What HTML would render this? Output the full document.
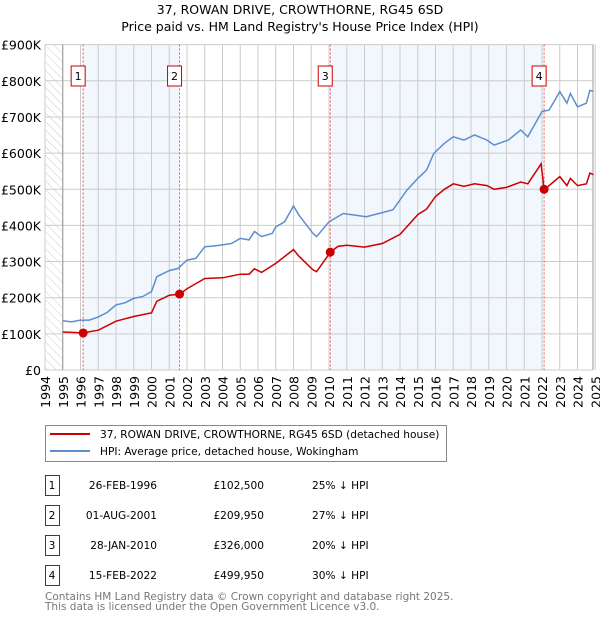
<!DOCTYPE html>
<html><head><meta charset="utf-8"><style>
body{margin:0;background:#fff}
svg{display:block;font-family:"DejaVu Sans","Liberation Sans",sans-serif}
</style></head><body>
<svg id="c" width="600" height="620" viewBox="0 0 600 620">
<defs><pattern id="hatch" width="6" height="6" patternUnits="userSpaceOnUse" patternTransform="rotate(-45)"><line x1="0" y1="0" x2="0" y2="6" stroke="#ccc" stroke-width="1"/></pattern></defs>
<text x="300" y="14" text-anchor="middle" font-size="12.5">37, ROWAN DRIVE, CROWTHORNE, RG45 6SD</text>
<text x="300" y="31" text-anchor="middle" font-size="12.5">Price paid vs. HM Land Registry's House Price Index (HPI)</text>
<g id="plot"></g>
<g>
<rect x="45.5" y="425.5" width="401" height="36" fill="#fff" stroke="#888"/>
<line x1="50" y1="434" x2="90" y2="434" stroke="#cc0000" stroke-width="2"/>
<text x="100" y="438" font-size="10.6">37, ROWAN DRIVE, CROWTHORNE, RG45 6SD (detached house)</text>
<line x1="50" y1="451" x2="90" y2="451" stroke="#5b8fd0" stroke-width="2"/>
<text x="100" y="455" font-size="10.6">HPI: Average price, detached house, Wokingham</text>
</g>
<g id="table" font-size="10.6"></g>
<text x="45" y="600" font-size="10.5" fill="#777">Contains HM Land Registry data © Crown copyright and database right 2025.</text>
<text x="45" y="610" font-size="10.5" fill="#777">This data is licensed under the Open Government Licence v3.0.</text>
</svg>
<script>
const hpiYears=[1995,1995.5,1996,1996.5,1997,1997.5,1998,1998.5,1999,1999.5,2000,2000.3,2001,2001.5,2002,2002.5,2003,2003.5,2004,2004.5,2005,2005.5,2005.8,2006.2,2006.8,2007,2007.5,2008,2008.3,2009.1,2009.3,2010,2010.8,2012.1,2013.6,2014.4,2015,2015.5,2015.9,2016.5,2017,2017.6,2018.2,2018.9,2019.3,2020.1,2020.8,2021.2,2022,2022.4,2023,2023.4,2023.6,2024,2024.5,2024.7,2024.9];
const hpiValues=[136,133,138,138,147,159,180,186,198,203,217,258,275,281,304,309,341,343,346,350,364,360,383,369,378,396,410,454,429,378,369,410,433,424,443,498,530,553,599,627,645,636,650,636,622,636,664,645,715,719,770,738,765,728,738,774,770];
const priceYears=[1995,1996.15,1997,1998,1999,2000,2000.3,2001,2001.6,2002,2003,2004,2005,2005.5,2005.8,2006.2,2007,2008,2008.3,2009.1,2009.3,2010.08,2010.5,2011,2012,2013,2014,2015,2015.5,2016,2016.5,2017,2017.6,2018.2,2018.9,2019.3,2020,2020.8,2021.2,2021.95,2022.12,2022.4,2023,2023.4,2023.6,2024,2024.5,2024.7,2024.9];
const priceValues=[105,102.5,110,135,148,158,190,207,210,225,253,255,265,265,280,270,295,333,315,277,272,326,342,345,340,350,375,430,445,480,500,515,508,515,510,500,505,520,515,570,500,510,535,510,530,510,515,545,540];
const saleYears=[1996.15,2001.58,2010.07,2022.12];
const saleValues=[102.5,209.95,326,499.95];
const saleLabels=["1","2","3","4"];
const saleDates=["26-FEB-1996","01-AUG-2001","28-JAN-2010","15-FEB-2022"];
const salePrices=["£102,500","£209,950","£326,000","£499,950"];
const saleDiffs=["25% ↓ HPI","27% ↓ HPI","20% ↓ HPI","30% ↓ HPI"];
const yTicks=[0,100,200,300,400,500,600,700,800,900];
const yTickLabels=["£0","£100K","£200K","£300K","£400K","£500K","£600K","£700K","£800K","£900K"];
const xTicks=[];for(let y=1994;y<=2025;y++)xTicks.push(y);

const NS="http://www.w3.org/2000/svg";
const X=y=>45+(y-1994)*17.75, Y=v=>370-v*0.3615;
const L=45,R=593,T=44.5,B=370;
function mk(tag,at,parent){const e=document.createElementNS(NS,tag);for(const k in at)e.setAttribute(k,at[k]);parent.appendChild(e);return e;}
const p=document.getElementById('plot');
let e=mk('rect',{x:L,y:T,width:X(1995)-L,height:B-T,fill:'url(#hatch)'},p);


e=mk('rect',{x:X(saleYears[0]),y:T,width:X(saleYears[1])-X(saleYears[0]),height:B-T,fill:'#f2f6fd'},p);


e=mk('rect',{x:X(saleYears[2]),y:T,width:X(saleYears[3])-X(saleYears[2]),height:B-T,fill:'#f2f6fd'},p);


yTicks.forEach((v,i)=>{
 e=mk('line',{x1:L,x2:R,y1:Y(v),y2:Y(v),stroke:'#ccc'},p);
 
 
 e=mk('text',{x:41,y:Y(v)+5,'text-anchor':'end','font-size':'12.5'},p);e.textContent=yTickLabels[i];
 
 
});
xTicks.forEach(y=>{
 e=mk('line',{x1:X(y),x2:X(y),y1:T,y2:B,stroke:'#ccc'},p);
 
 
 e=mk('text',{x:0,y:0,'text-anchor':'end','font-size':'12.5',transform:`translate(${X(y)+5},376) rotate(-90)`},p);e.textContent=y;
 
 
});
e=mk('line',{x1:X(1995),x2:X(1995),y1:T,y2:B,stroke:'#999'},p);


e=mk('line',{x1:R,x2:R,y1:T,y2:B,stroke:'#999'},p);


saleYears.forEach((y,i)=>{
 e=mk('line',{x1:X(y),x2:X(y),y1:T,y2:B,stroke:'#ee5555','stroke-dasharray':'2,2'},p);
 
 
 e=mk('rect',{x:X(y)-12,y:66,width:14,height:20,fill:'#fff',stroke:'#cc0000'},p);
 
 
 e=mk('text',{x:X(y)-5,y:80,'text-anchor':'middle','font-size':'11'},p);e.textContent=saleLabels[i];
 
 
});
const pts=(xs,vs)=>xs.map((x,i)=>X(x).toFixed(1)+','+Y(vs[i]).toFixed(1)).join(' ');
e=mk('polyline',{points:pts(hpiYears,hpiValues),fill:'none',stroke:'#5b8fd0','stroke-width':1.5},p);


e=mk('polyline',{points:pts(priceYears,priceValues),fill:'none',stroke:'#cc0000','stroke-width':1.5},p);


saleYears.forEach((y,i)=>{
 e=mk('circle',{cx:X(y),cy:Y(saleValues[i]),r:4.5,fill:'#cc0000'},p);
 
 
});
const t=document.getElementById('table');
saleLabels.forEach((s,i)=>{
 const yy=475+i*30;
 e=mk('rect',{x:45.5,y:yy+0.5,width:14,height:20,fill:'#fff',stroke:'#cc0000'},t);
 
 
 const cells=[[52,s,'middle'],[157,saleDates[i],'end'],[264,salePrices[i],'end'],[312,saleDiffs[i],'start']];
 cells.forEach(c=>{
  e=mk('text',{x:c[0],y:yy+14,'text-anchor':c[2]},t);e.textContent=c[1];
  
  
 });
});
</script>
</body></html>
